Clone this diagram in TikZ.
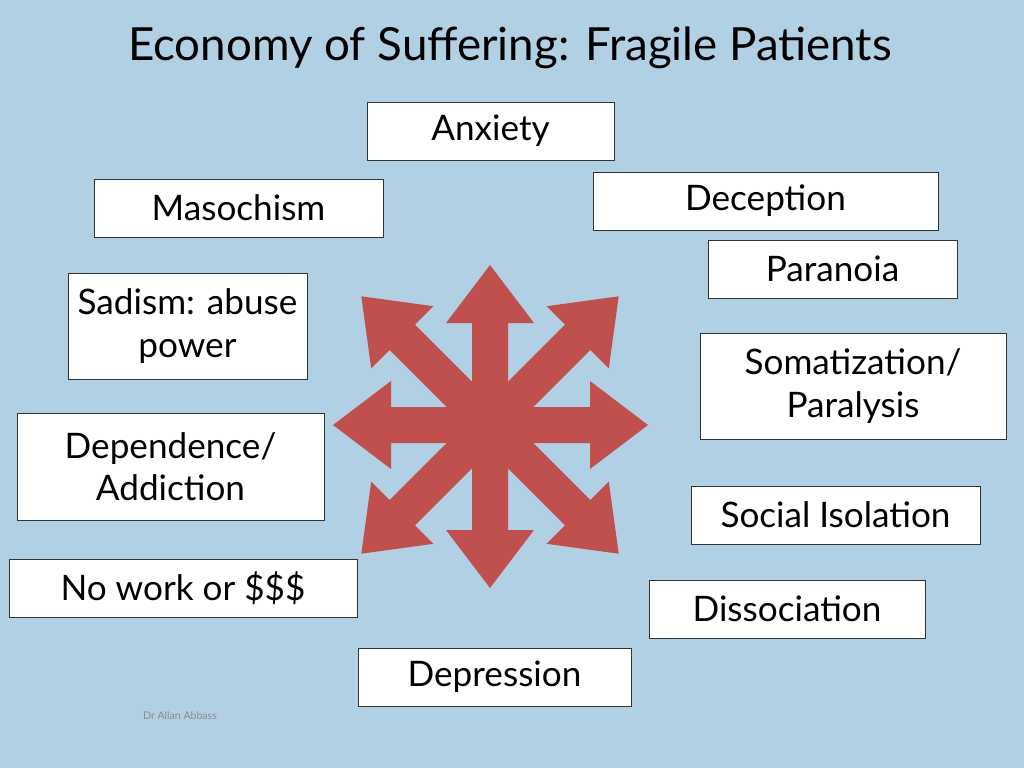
\documentclass[tikz,border=0pt]{standalone}
\usepackage{fontspec}
\setmainfont{Lato}
\usepackage{tikz}
\usetikzlibrary{positioning}
\definecolor{slidebg}{RGB}{178,208,228}
\definecolor{starred}{RGB}{192,80,77}

\begin{document}
\begin{tikzpicture}[x=0.02cm, y=-0.02cm]
    % Styles
    \tikzstyle{box} = [rectangle, draw=black!80, fill=white, minimum height=1.16cm, align=center, text centered, font=\fontsize{20}{24}\selectfont, inner sep=2pt]
    \tikzstyle{ray} = [fill=starred, draw=none]

    % Background
    \fill[slidebg] (0,0) rectangle (1024,768);
    \useasboundingbox (0,0) rectangle (1024,768);

    % Title
    \node (title) at (510,48) {\fontsize{26}{30}\selectfont Economy of Suffering: Fragile Patients};

    % Star of arrows
    \coordinate (hub) at (490,425);
    \foreach \ang/\len in {0/158, 45/182, 90/160, 135/182, 180/157, 225/182, 270/163, 315/182}
        \fill[ray, rotate around={\ang:(hub)}, shift={(hub)}]
            (0,-18) -- (\len-58,-18) -- (\len-58,-44) -- (\len,0) -- (\len-58,44) -- (\len-58,18) -- (0,18) -- cycle;

    % Nodes
    \node (anxiety) [box, minimum width=4.94cm] at (490.5,131) {Anxiety};
    \node (masochism) [box, minimum width=5.78cm] at (238.5,208) {Masochism};
    \node (deception) [box, minimum width=6.9cm] at (765.5,201) {Deception};
    \node (paranoia) [box, minimum width=4.98cm] at (832.5,269) {Paranoia};
    \node (sadism) [box, minimum width=4.78cm, minimum height=2.12cm] at (187.5,326) {Sadism: abuse\\power};
    \node (somatization) [box, minimum width=6.12cm, minimum height=2.12cm] at (853,386) {Somatization/\\Paralysis};
    \node (dependence) [box, minimum width=6.14cm, minimum height=2.14cm] at (170.5,466.5) {Dependence/\\Addiction};
    \node (isolation) [box, minimum width=5.78cm] at (835.5,515) {Social Isolation};
    \node (nowork) [box, minimum width=6.96cm] at (183,588) {No work or \$\$\$};
    \node (dissociation) [box, minimum width=5.52cm] at (787,609) {Dissociation};
    \node (depression) [box, minimum width=5.46cm] at (494.5,677) {Depression};

    % Footer
    \node (credit) [text=black!45, font=\fontsize{6}{7}\selectfont] at (180,716) {Dr Allan Abbass};
\end{tikzpicture}
\end{document}
